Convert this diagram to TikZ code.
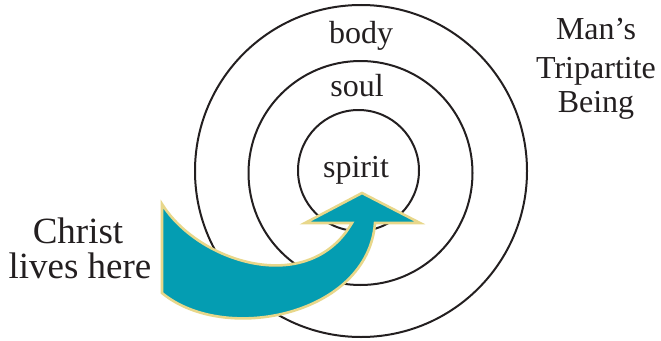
\documentclass[tikz,border=0pt]{standalone}
\usepackage{fontspec}
\setmainfont{Liberation Serif}
\definecolor{ink}{HTML}{231F20}
\definecolor{teal}{HTML}{049DB2}
\definecolor{pale}{HTML}{E8D78A}
\begin{document}
\begin{tikzpicture}[x=1pt,y=-1pt,
  ring/.style={draw=ink,line width=2pt},
  lbl/.style={text=ink,inner sep=0pt,anchor=base,font=\fontsize{32}{34}\selectfont},
  big/.style={text=ink,inner sep=0pt,anchor=base,font=\fontsize{37}{35}\selectfont},
  arrowshape/.style={fill=teal,draw=pale,line width=2.6pt,line join=miter}]
\useasboundingbox (0,0) rectangle (661,340);
\draw[ring] (361,171) circle (166);
\draw[ring] (360.5,173) circle (112);
\draw[ring] (358.5,170.5) circle (60.5);
\node[lbl] (body) at (361,43) {body};
\node[lbl] (soul) at (357,96) {soul};
\node[lbl] (spirit) at (356,177) {spirit};
\node[lbl] (mans) at (596,39) {Man’s};
\node[lbl] (tri) at (596,78) {Tripartite};
\node[lbl] (being) at (596,112) {Being};
\node[big] (christ) at (78,243) {Christ};
\node[big] (lives) at (80,278) {lives here};
\draw[arrowshape] (162,204) .. controls (198,262) and (308,298) .. (352,223)
  -- (305,223) -- (362,193) -- (420,223) -- (375,223)
  .. controls (368,315) and (225,345) .. (162,293) -- cycle;
\end{tikzpicture}
\end{document}
